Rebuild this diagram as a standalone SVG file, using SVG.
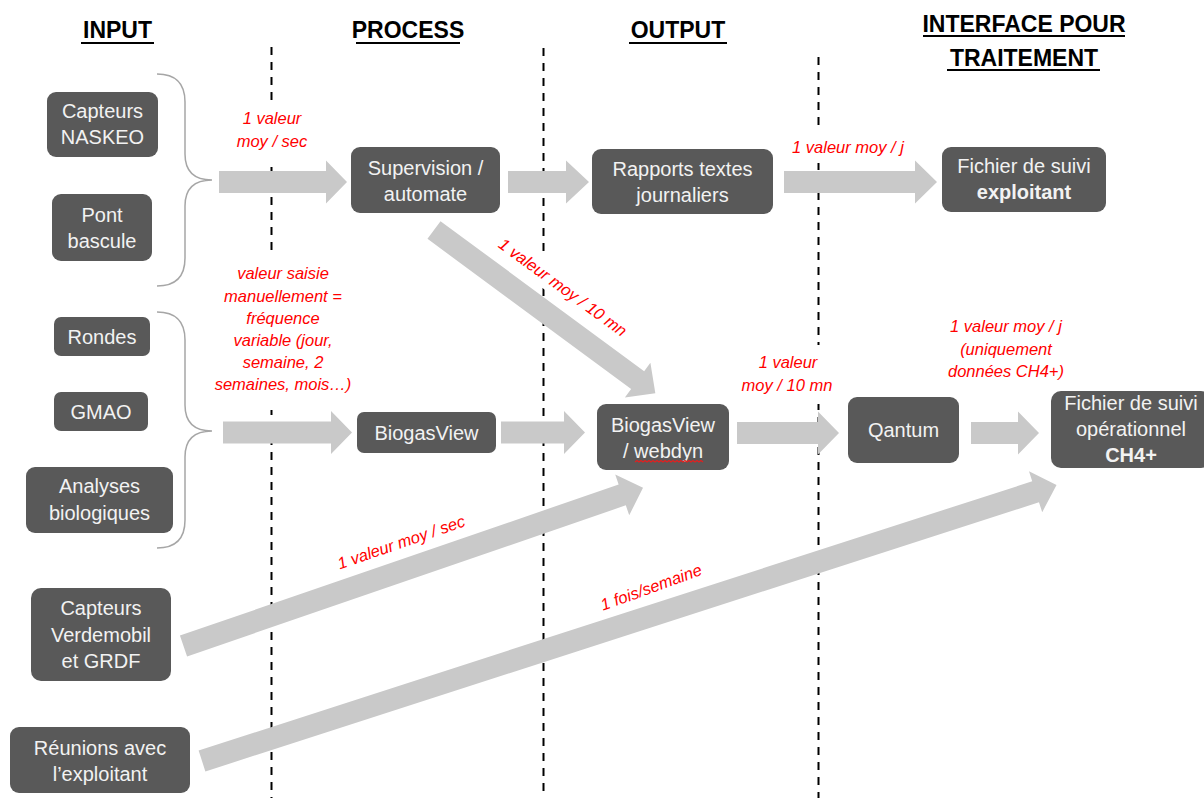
<svg xmlns="http://www.w3.org/2000/svg" width="1204" height="798" viewBox="0 0 1204 798">
  <style>
    .hdr { font-family: "Liberation Sans", Arial, sans-serif; font-weight: bold; font-size: 23px; fill: #000; text-anchor: middle; }
    .uline { stroke: #000; stroke-width: 2; }
    .divider { stroke: #000; stroke-width: 2; stroke-dasharray: 8 7; fill: none; }
    .box { fill: #595959; }
    .ntxt { font-family: "Liberation Sans", Arial, sans-serif; font-size: 20px; fill: #f2f2f2; text-anchor: middle; }
    .bold { font-weight: bold; }
    .arrow { fill: #c9c9c9; }
    .brace { fill: none; stroke: #a6a6a6; stroke-width: 1.5; }
    .lbl { font-family: "Liberation Sans", Arial, sans-serif; font-style: italic; font-size: 16.5px; fill: #ff0000; text-anchor: middle; }
    .lblbg { fill: #ffffff; }
    .squiggle { fill: none; stroke: #e02020; stroke-width: 1.2; }
  </style>

  <rect x="0" y="0" width="1204" height="798" fill="#ffffff"/>

  <!-- column titles -->
  <g id="headers">
    <text class="hdr" x="117.5" y="38">INPUT</text>
    <line class="uline" x1="81" y1="43" x2="154" y2="43"/>
    <text class="hdr" x="408" y="38">PROCESS</text>
    <line class="uline" x1="356" y1="43" x2="460" y2="43"/>
    <text class="hdr" x="678" y="38">OUTPUT</text>
    <line class="uline" x1="629" y1="43" x2="727" y2="43"/>
    <text class="hdr" x="1024" y="32">INTERFACE POUR</text>
    <line class="uline" x1="923" y1="36" x2="1125" y2="36"/>
    <text class="hdr" x="1024" y="66">TRAITEMENT</text>
    <line class="uline" x1="947" y1="70" x2="1100" y2="70"/>
  </g>

  <!-- dashed column separators -->
  <g id="dividers">
    <line class="divider" x1="271.5" y1="47" x2="271.5" y2="798"/>
    <line class="divider" x1="543.5" y1="48" x2="543.5" y2="798"/>
    <line class="divider" x1="818.5" y1="57" x2="818.5" y2="798"/>
  </g>

  <!-- white backgrounds of the frequency labels -->
  <g id="label-backgrounds">
    <rect class="lblbg" x="232" y="101" width="80" height="60"/>
    <rect class="lblbg" x="205" y="255" width="157" height="155"/>
    <rect class="lblbg" x="786" y="129" width="125" height="34"/>
    <rect class="lblbg" x="736" y="345" width="104" height="59"/>
    <rect class="lblbg" x="-78" y="-13" width="156" height="26" transform="translate(563,287) rotate(36)"/>
  </g>

  <!-- connectors: braces and block arrows -->
  <g id="connectors">
    <path class="brace" d="M157,74 Q185,74 185,102 V154 Q185,180 212,180 Q185,180 185,206 V258 Q185,286 157,286"/>
    <path class="brace" d="M157,312 Q185,312 185,340 V405 Q185,431 212,431 Q185,431 185,457 V520 Q185,548 157,548"/>

    <path class="arrow" d="M219,171 H326 V160.5 L347,182 L326,203.5 V193 H219 Z"/>
    <path class="arrow" d="M508,171 H566 V160.5 L589,182 L566,203.5 V193 H508 Z"/>
    <path class="arrow" d="M784,171 H915 V160.5 L937,182 L915,203.5 V193 H784 Z"/>
    <path class="arrow" d="M223,421.5 H331 V411 L352,432.5 L331,454 V443.5 H223 Z"/>
    <path class="arrow" d="M501,421.5 H564 V411 L585,432.5 L564,454 V443.5 H501 Z"/>
    <path class="arrow" d="M737,422 H818 V411.5 L839,433 L818,454.5 V444 H737 Z"/>
    <path class="arrow" d="M971,422 H1018 V411.5 L1039,433 L1018,454.5 V444 H971 Z"/>

    <path class="arrow" transform="translate(434,230) rotate(36.4)" d="M0,-11 H253 V-21.5 L275,0 L253,21.5 V11 H0 Z"/>
    <path class="arrow" transform="translate(183.5,646) rotate(-19)" d="M0,-11 H464 V-21.5 L486,0 L464,21.5 V11 H0 Z"/>
    <path class="arrow" transform="translate(202,761) rotate(-17.9)" d="M0,-11 H876 V-21.5 L898,0 L876,21.5 V11 H0 Z"/>
  </g>

  <!-- input nodes -->
  <g id="capteurs-naskeo">
    <rect class="box" x="47" y="92" width="111" height="65" rx="9"/>
    <text class="ntxt" x="102.5" y="118">Capteurs</text>
    <text class="ntxt" x="102.5" y="144">NASKEO</text>
  </g>
  <g id="pont-bascule">
    <rect class="box" x="52" y="194" width="100" height="67" rx="9"/>
    <text class="ntxt" x="102" y="222">Pont</text>
    <text class="ntxt" x="102" y="248">bascule</text>
  </g>
  <g id="rondes">
    <rect class="box" x="54" y="317" width="96" height="39" rx="7"/>
    <text class="ntxt" x="102" y="344">Rondes</text>
  </g>
  <g id="gmao">
    <rect class="box" x="54" y="392" width="94" height="39" rx="7"/>
    <text class="ntxt" x="101" y="419">GMAO</text>
  </g>
  <g id="analyses-biologiques">
    <rect class="box" x="26" y="467" width="147" height="66" rx="9"/>
    <text class="ntxt" x="99.5" y="493">Analyses</text>
    <text class="ntxt" x="99.5" y="520">biologiques</text>
  </g>
  <g id="capteurs-verdemobil">
    <rect class="box" x="31" y="588" width="140" height="93" rx="10"/>
    <text class="ntxt" x="101" y="615">Capteurs</text>
    <text class="ntxt" x="101" y="642">Verdemobil</text>
    <text class="ntxt" x="101" y="668">et GRDF</text>
  </g>
  <g id="reunions-exploitant">
    <rect class="box" x="10" y="727" width="180" height="66" rx="9"/>
    <text class="ntxt" x="100" y="755">Réunions avec</text>
    <text class="ntxt" x="100" y="781">l’exploitant</text>
  </g>

  <!-- process nodes -->
  <g id="supervision-automate">
    <rect class="box" x="351" y="147" width="149" height="66" rx="9"/>
    <text class="ntxt" x="425.5" y="175">Supervision /</text>
    <text class="ntxt" x="425.5" y="201">automate</text>
  </g>
  <g id="biogasview">
    <rect class="box" x="357" y="412" width="139" height="41" rx="7"/>
    <text class="ntxt" x="426.5" y="440">BiogasView</text>
  </g>

  <!-- output nodes -->
  <g id="rapports-journaliers">
    <rect class="box" x="592" y="149" width="181" height="65" rx="9"/>
    <text class="ntxt" x="682.5" y="176">Rapports textes</text>
    <text class="ntxt" x="682.5" y="202">journaliers</text>
  </g>
  <g id="biogasview-webdyn">
    <rect class="box" x="597" y="404" width="132" height="66" rx="9"/>
    <text class="ntxt" x="663" y="432">BiogasView</text>
    <text class="ntxt" x="663" y="458">/ webdyn</text>
    <!-- spell-check wave under "webdyn" -->
    <path class="squiggle" d="M635,462 l2,-1.5 l2,1.5 l2,-1.5 l2,1.5 l2,-1.5 l2,1.5 l2,-1.5 l2,1.5 l2,-1.5 l2,1.5 l2,-1.5 l2,1.5 l2,-1.5 l2,1.5 l2,-1.5 l2,1.5 l2,-1.5 l2,1.5 l2,-1.5 l2,1.5 l2,-1.5 l2,1.5 l2,-1.5 l2,1.5 l2,-1.5 l2,1.5 l2,-1.5 l2,1.5 l2,-1.5 l2,1.5 l2,-1.5 l2,1.5 l2,-1.5 l2,1.5"/>
  </g>
  <g id="qantum">
    <rect class="box" x="848" y="397" width="111" height="66" rx="9"/>
    <text class="ntxt" x="903.5" y="437">Qantum</text>
  </g>

  <!-- processing interface nodes -->
  <g id="fichier-exploitant">
    <rect class="box" x="942" y="147" width="164" height="65" rx="9"/>
    <text class="ntxt" x="1024" y="173">Fichier de suivi</text>
    <text class="ntxt bold" x="1024" y="199">exploitant</text>
  </g>
  <g id="fichier-ch4">
    <rect class="box" x="1051" y="391" width="160" height="77" rx="10"/>
    <text class="ntxt" x="1131" y="410">Fichier de suivi</text>
    <text class="ntxt" x="1131" y="436">opérationnel</text>
    <text class="ntxt bold" x="1131" y="462">CH4+</text>
  </g>

  <!-- frequency labels -->
  <g id="labels">
    <text class="lbl" x="272" y="124">1 valeur</text>
    <text class="lbl" x="272" y="147">moy / sec</text>

    <text class="lbl" x="283" y="279">valeur saisie</text>
    <text class="lbl" x="283" y="302">manuellement =</text>
    <text class="lbl" x="283" y="324">fréquence</text>
    <text class="lbl" x="283" y="346">variable (jour,</text>
    <text class="lbl" x="283" y="368">semaine, 2</text>
    <text class="lbl" x="283" y="390">semaines, mois…)</text>

    <text class="lbl" x="848" y="153">1 valeur moy / j</text>

    <text class="lbl" transform="translate(563,287) rotate(36)" x="0" y="6">1 valeur moy / 10 mn</text>

    <text class="lbl" x="788" y="368">1 valeur</text>
    <text class="lbl" x="787" y="391">moy / 10 mn</text>

    <text class="lbl" x="1006" y="332">1 valeur moy / j</text>
    <text class="lbl" x="1006" y="355">(uniquement</text>
    <text class="lbl" x="1006" y="377">données CH4+)</text>

    <text class="lbl" transform="translate(401,542) rotate(-19)" x="0" y="6">1 valeur moy / sec</text>
    <text class="lbl" transform="translate(651,587) rotate(-20)" x="0" y="6">1 fois/semaine</text>
  </g>
</svg>
